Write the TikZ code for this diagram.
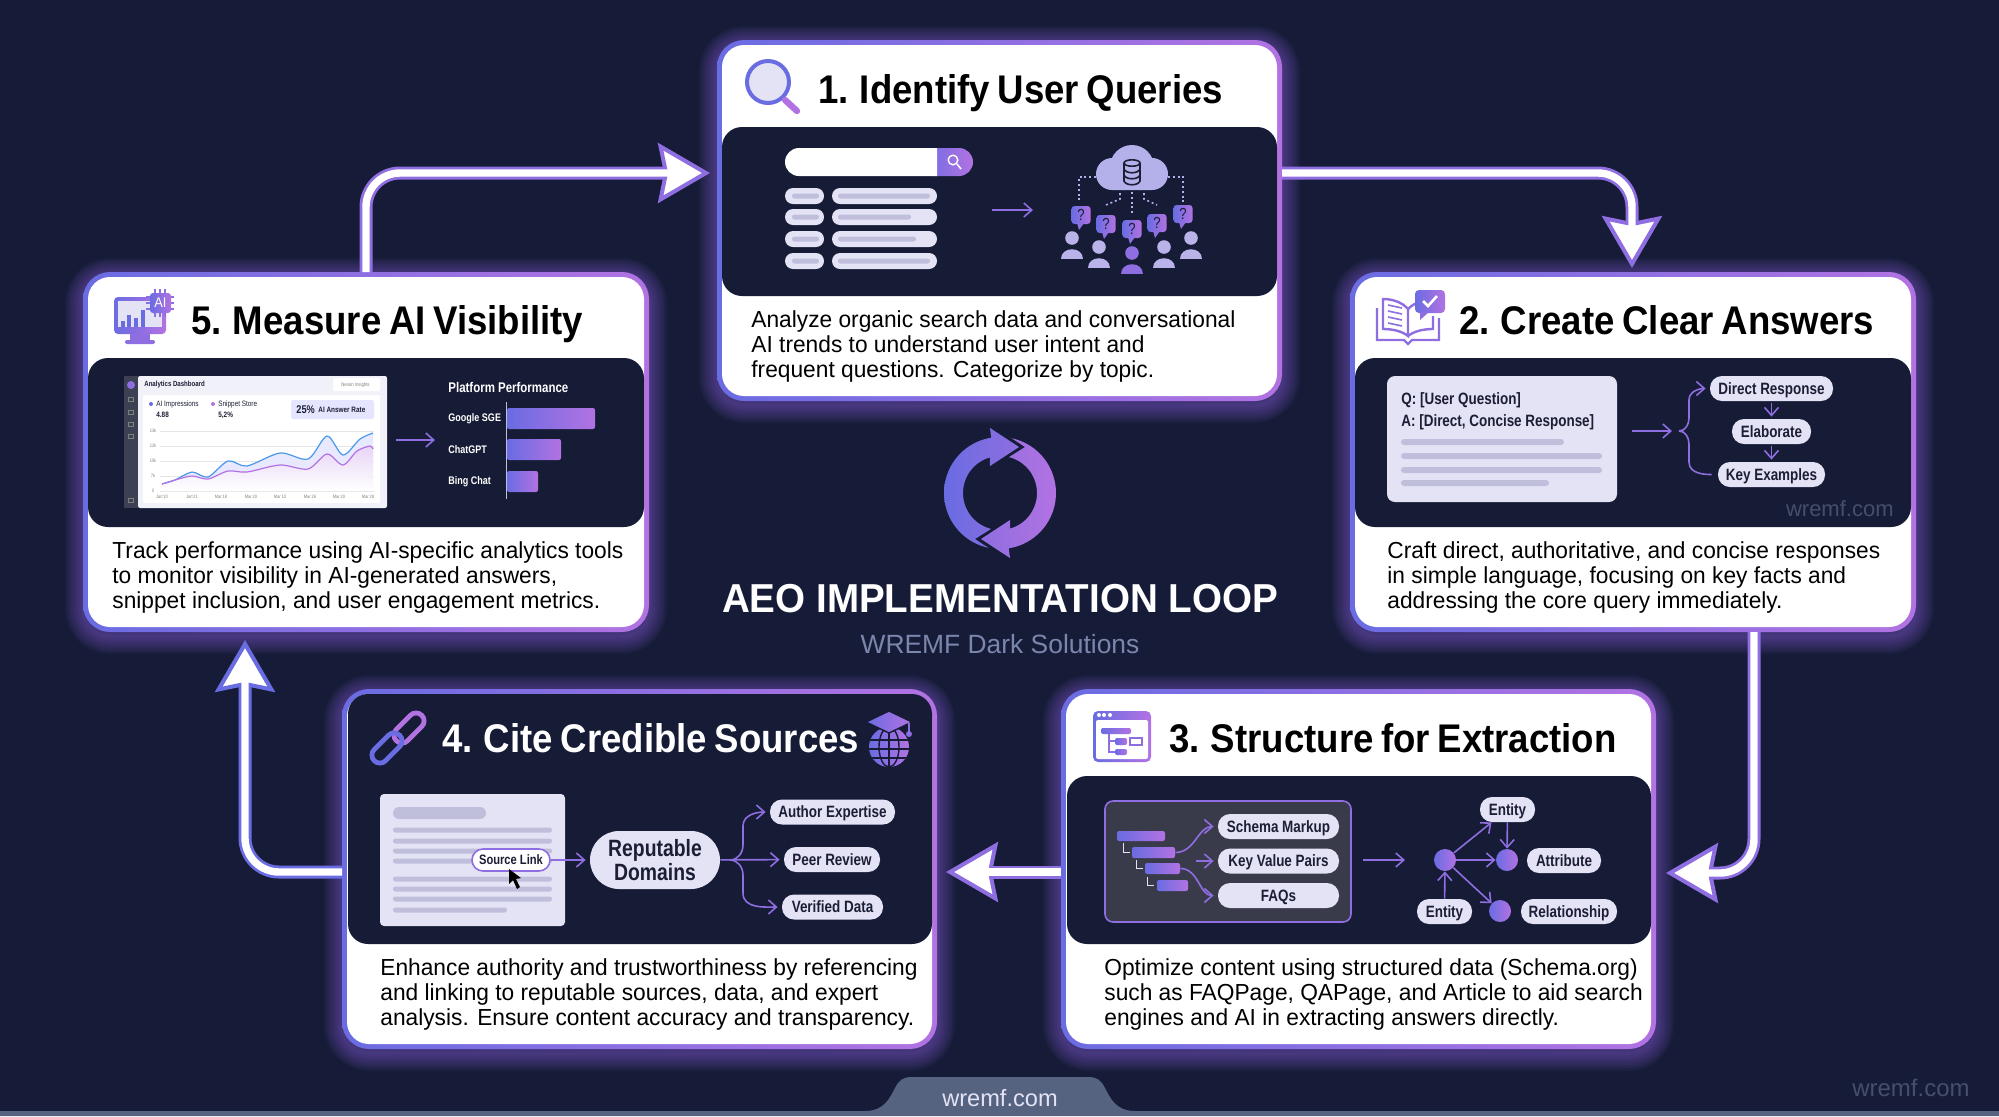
\documentclass[tikz,border=0pt]{standalone}
\usepackage{fontspec}
\setmainfont{Liberation Sans}
\newfontfamily\titlefam[FakeStretch=0.915,WordSpace=0.75]{Liberation Sans}
\newfontfamily\loopfam[FakeStretch=0.955]{Liberation Sans}
\newfontfamily\descfam[FakeStretch=0.98]{Liberation Sans}
\newfontfamily\narrowfam[FakeStretch=0.82]{Liberation Sans}
\usetikzlibrary{arrows.meta}

\definecolor{bgnavy}{HTML}{161C38}
\definecolor{panelnavy}{HTML}{161B36}
\definecolor{cardblue}{HTML}{6A6CE2}
\definecolor{cardpurple}{HTML}{B272E2}
\definecolor{midpurple}{HTML}{8E6EE0}
\definecolor{glowpurple}{HTML}{8A5FD8}
\definecolor{pillfill}{HTML}{E4E3F6}
\definecolor{barfill}{HTML}{BFBFDC}
\definecolor{inkdark}{HTML}{1B1E34}
\definecolor{subgray}{HTML}{7B86AC}
\definecolor{tabgray}{HTML}{566380}
\definecolor{markgray}{HTML}{464E6C}
\definecolor{cloudfill}{HTML}{B4B0EA}
\definecolor{personfill}{HTML}{B9B3EA}

\newcommand{\fs}[1]{\fontsize{#1}{#1}\selectfont}

\tikzset{
  cardbox/.style={inner sep=0pt, rounded corners=13.5pt, left color=cardblue, right color=cardpurple},
  gradfill/.style={left color=cardblue, right color=cardpurple},
  glowline/.style={draw=glowpurple, rounded corners=13.5pt, opacity=0.05},
  pillnode/.style={fill=pillfill, rounded corners=6pt, inner sep=0pt, minimum height=12.5pt, text=inkdark,
    text height=6pt, text depth=0.2pt, font=\narrowfam\bfseries\fs{8.2}},
  titletext/.style={anchor=base west, inner sep=0pt, font=\titlefam\bfseries\fs{20}},
  desctext/.style={anchor=north west, inner sep=0pt, align=left, text=black,
    font=\descfam\fontsize{11.6}{12.6}\selectfont},
  smalltext/.style={inner sep=0pt, text=white, font=\narrowfam\bfseries\fs{#1}},
  tinytext/.style={inner sep=0pt, text=inkdark, font=\narrowfam\fs{#1}},
  thinline/.style={draw=midpurple, line width=0.8pt},
  thinarrow/.style={thinline, -{Straight Barb[length=4pt,width=7pt]}},
  dotline/.style={draw=cloudfill, line width=0.8pt, dash pattern=on 1pt off 1.4pt},
  dotnode/.style={circle, inner sep=0pt, minimum size=11pt, gradfill},
  barnode/.style={inner sep=0pt, rounded corners=1pt, gradfill},
  bigarrow/.style={draw=#1, line width=6.5pt, rounded corners=17pt,
    -{Stealth[length=26pt,width=30pt,inset=3pt,fill=white,color=#1,line width=2pt]},
    postaction={draw=white, line width=3.7pt, -, shorten >=14pt}},
  personpic/.pic={
    \fill[#1] (0,0) circle (3.4pt);
    \fill[#1] (-11,21) .. controls (-11,8) and (11,8) .. (11,21) -- cycle;
  },
  bubblepic/.pic={
    \shade[gradfill, rounded corners=1.5pt] (-9.5,-9) rectangle (9.5,9);
    \fill[midpurple] (-4,8) -- (-2,15) -- (3,8) -- cycle;
    \node (qm) [tinytext=8, text=inkdark] at (0,0) {?};
  }
}

\begin{document}
\begin{tikzpicture}[x=0.5pt,y=-0.5pt]

\useasboundingbox (0,0) rectangle (1999,1116);
\fill[bgnavy] (0,0) rectangle (1999,1116);

\def\cardlist{card1/717/40/1282/401,card2/1350/272/1916/632,card3/1061/689/1656/1049,card4/342/689/937/1049,card5/83/272/649/632}

% glow behind the cards
\foreach \n/\xa/\ya/\xb/\yb in \cardlist
    \foreach \g in {3,6,...,36}
        \draw[glowline, line width=\g*0.5pt] (\xa,\ya+4) rectangle (\xb,\yb+4);

\foreach \n/\xa/\ya/\xb/\yb in \cardlist {
    \node (\n) [cardbox, minimum width={(\xb-\xa)*0.5pt}, minimum height={(\yb-\ya)*0.5pt}]
        at ({(\xa+\xb)/2},{(\ya+\yb)/2}) {};
    \fill[white, rounded corners=11pt] ({\xa+5},{\ya+5}) rectangle ({\xb-5},{\yb-5});
}

\foreach \xa/\ya/\xb/\yb in {722/127/1277/296,1355/358/1911/527,1067/776/1651/944,348/694/932/944,88/358/644/527}
    \fill[panelnavy, rounded corners=10pt] (\xa,\ya) rectangle (\xb,\yb);

% big loop arrows
\coordinate (c5out) at (366,272);
\coordinate (c1in) at (710,173);
\coordinate (c1out) at (1282,173);
\coordinate (c2in) at (1632,268);
\coordinate (c2out) at (1754,632);
\coordinate (c3in) at (1666,873);
\coordinate (c3out) at (1061,872);
\coordinate (c4in) at (946,872);
\coordinate (c4out) at (342,872);
\coordinate (c5in) at (245,640);

\draw[bigarrow=midpurple] (c5out) |- (c1in);
\draw[bigarrow=midpurple] (c1out) -| (c2in);
\draw[bigarrow=midpurple] (c2out) |- (c3in);
\draw[bigarrow=midpurple] (c3out) -- (c4in);
\draw[bigarrow=cardblue] (c4out) -| (c5in);

% centre
\shade[left color=cardblue, right color=midpurple]
    plot[domain=102:261,samples=40] ({1000+56*cos(\x)},{493+56*sin(\x)})
    -- (990,428) -- (1019,447) -- (990,466)
    -- plot[domain=254:104,samples=40] ({1000+37*cos(\x)},{493+37*sin(\x)})
    -- (975,539) -- cycle;
\shade[left color=midpurple, right color=cardpurple]
    plot[domain=282:441,samples=40] ({1000+56*cos(\x)},{493+56*sin(\x)})
    -- (1010,558) -- (981,539) -- (1010,520)
    -- plot[domain=434:284,samples=40] ({1000+37*cos(\x)},{493+37*sin(\x)})
    -- (1025,447) -- cycle;
\node (looptitle) [anchor=base, inner sep=0pt, text=white, font=\loopfam\bfseries\fs{20.2}] at (1000,612) {AEO IMPLEMENTATION LOOP};
\node (loopsub) [anchor=base, inner sep=0pt, text=subgray, font=\fs{13.2}] at (1000,653) {WREMF Dark Solutions};

% footer
\fill[tabgray] (0,1116) -- (0,1111) -- (865,1111) .. controls (885,1111) and (890,1097) .. (895,1088)
    .. controls (899,1080) and (903,1077) .. (912,1077) -- (1088,1077)
    .. controls (1097,1077) and (1101,1080) .. (1105,1088) .. controls (1110,1097) and (1115,1111) .. (1135,1111)
    -- (1999,1111) -- (1999,1116) -- cycle;
\node (tablabel) [anchor=base, inner sep=0pt, text=pillfill, font=\fs{11.8}] at (1000,1106) {wremf.com};
\node (cornermark) [anchor=base east, inner sep=0pt, text=markgray, font=\fs{12}] at (1970,1096) {wremf.com};

% ---- card 1
\fill[pillfill] (768,82) circle (10.5pt);
\draw[cardblue, line width=2pt] (768,82) circle (10.5pt);
\draw[cardpurple, line width=3.2pt, line cap=round] (785,100) -- (797,111);
\node (title1) [titletext] at (818,103) {1. Identify User Queries};

\shade[gradfill, rounded corners=7pt] (920,148) rectangle (973,176);
\fill[white] (937,148) [rounded corners=7pt] -- (785,148) -- (785,176) [sharp corners] -- (937,176) -- cycle;
\draw[white, line width=0.7pt] (953,160) circle (2.4pt);
\draw[white, line width=0.8pt] (957,164) -- (961,169);

\foreach \y/\l in {196/930,217/911,239/916,261/930} {
    \fill[pillfill, rounded corners=4pt] (785,\y-8) rectangle (824,\y+8);
    \fill[pillfill, rounded corners=4pt] (832,\y-8) rectangle (937,\y+8);
    \fill[barfill, rounded corners=1.2pt] (792,\y-2.5) rectangle (819,\y+2.5);
    \fill[barfill, rounded corners=1.2pt] (838,\y-2.5) rectangle (\l,\y+2.5);
}

\coordinate (a1s) at (992,210);
\coordinate (a1e) at (1033,210);
\draw[thinarrow] (a1s) -- (a1e);

\fill[cloudfill] (1132,167) circle (11pt) (1112,174) circle (8pt) (1152,174) circle (8pt)
    (1112,170) rectangle (1152,190);
\draw[inkdark, line width=0.8pt] (1132,163) circle [x radius=4pt, y radius=1.6pt];
\draw[inkdark, line width=0.8pt] (1124,163) -- (1124,181) .. controls (1126,186) and (1138,186) .. (1140,181) -- (1140,163);
\draw[inkdark, line width=0.8pt] (1124,169) .. controls (1126,174) and (1138,174) .. (1140,169);
\draw[inkdark, line width=0.8pt] (1124,175) .. controls (1126,180) and (1138,180) .. (1140,175);

\draw[dotline] (1096,177) -- (1079,177) -- (1079,203);
\draw[dotline] (1168,177) -- (1183,177) -- (1183,203);
\draw[dotline] (1120,193) -- (1120,199) -- (1106,205);
\draw[dotline] (1132,192) -- (1132,215);
\draw[dotline] (1144,193) -- (1144,199) -- (1157,205);

\foreach \n/\x/\y in {1/1081/215,2/1106/224,3/1132/229,4/1157/223,5/1183/214}
    \pic (bub\n) at (\x,\y) {bubblepic};
\foreach \n/\x/\y/\c in {1/1072/238/personfill,2/1099/247/personfill,3/1132/253/midpurple,4/1164/247/personfill,5/1191/238/personfill}
    \pic (per\n) at (\x,\y) {personpic=\c};

\node (desc1) [desctext] at (751,310) {Analyze organic search data and conversational\\AI trends to understand user intent and\\frequent questions. Categorize by topic.};

% ---- card 2
\draw[midpurple, line width=1.2pt] (1377,308) -- (1377,340) -- (1404,340) -- (1408,344) -- (1412,340) -- (1439,340) -- (1439,318);
\fill[white] (1383,299) .. controls (1392,299) and (1402,302) .. (1408,309) -- (1408,336) .. controls (1402,331) and (1392,329) .. (1383,329) -- cycle;
\draw[midpurple, line width=1.2pt] (1383,299) .. controls (1392,299) and (1402,302) .. (1408,309) -- (1408,336) .. controls (1402,331) and (1392,329) .. (1383,329) -- cycle;
\draw[midpurple, line width=1.2pt] (1408,309) .. controls (1412,305) and (1416,303) .. (1420,302);
\draw[midpurple, line width=1.2pt] (1408,336) .. controls (1414,331) and (1424,329) .. (1433,329) -- (1433,316);
\foreach \y in {305,311,317,323}
    \draw[midpurple, line width=0.8pt] (1388,\y) -- (1402,\y+3);
\shade[gradfill, rounded corners=2pt] (1415,290) rectangle (1445,313);
\fill[midpurple] (1420,312) -- (1420,320) -- (1429,312) -- cycle;
\draw[white, line width=1.3pt] (1423,301) -- (1428,306) -- (1437,296);
\node (title2) [titletext] at (1459,334) {2. Create Clear Answers};

\fill[pillfill, rounded corners=4pt] (1387,376) rectangle (1617,502);
\node (qline) [tinytext=8.2, anchor=base west, font=\narrowfam\bfseries\fs{8.2}] at (1401,404) {Q: [User Question]};
\node (aline) [tinytext=8.2, anchor=base west, font=\narrowfam\bfseries\fs{8.2}] at (1401,426) {A: [Direct, Concise Response]};
\foreach \y/\l in {442/1564,456/1602,470/1602,483/1549}
    \fill[barfill, rounded corners=1.5pt] (1401,\y-3) rectangle (\l,\y+3);

\coordinate (a2s) at (1632,431);
\coordinate (a2e) at (1672,431);
\draw[thinarrow] (a2s) -- (a2e);

\node (dresp) [pillnode, minimum width=61.5pt] at (1771.5,388.5) {Direct Response};
\node (elab) [pillnode, minimum width=39.5pt] at (1771.5,431.5) {Elaborate};
\node (keyex) [pillnode, minimum width=53.5pt] at (1771.5,474.5) {Key Examples};
\coordinate (fork2) at (1679,431);
\coordinate (fork2a) at (1689,418);
\coordinate (fork2b) at (1689,400);
\coordinate (fork2c) at (1689,444);
\coordinate (fork2d) at (1689,462);
\draw[thinarrow, shorten >=2pt] (fork2) to[out=0,in=-90] (fork2a) -- (fork2b) to[out=90,in=180] (dresp.west);
\draw[thinline, shorten >=3pt] (fork2) to[out=0,in=90] (fork2c) -- (fork2d) to[out=-90,in=180] (keyex.west);
\draw[thinarrow, shorten <=1pt, shorten >=1pt] (dresp) -- (elab);
\draw[thinarrow, shorten <=1pt, shorten >=1pt] (elab) -- (keyex);
\node (mark2) [anchor=base east, inner sep=0pt, text=markgray, font=\fs{11}] at (1894,516) {wremf.com};

\node (desc2) [desctext] at (1387,541) {Craft direct, authoritative, and concise responses\\in simple language, focusing on key facts and\\addressing the core query immediately.};

% ---- card 3
\shade[gradfill, rounded corners=2.5pt] (1093,711) rectangle (1151,762);
\fill[white, rounded corners=1pt] (1096,720) rectangle (1148,759);
\foreach \x in {1099,1104,1110}
    \fill[white] (\x,715) circle (1pt);
\shade[gradfill, rounded corners=1pt] (1101,728) rectangle (1131,734);
\shade[gradfill, rounded corners=1pt] (1115,738) rectangle (1127,745);
\shade[gradfill, rounded corners=1pt] (1115,749) rectangle (1127,755);
\draw[midpurple, line width=0.6pt] (1130,738) rectangle (1142,745);
\draw[midpurple, line width=0.6pt] (1109,734) -- (1109,752) -- (1115,752);
\draw[midpurple, line width=0.6pt] (1109,741) -- (1115,741);
\node (title3) [titletext] at (1169,752) {3. Structure for Extraction};

\fill[inkdark!70!gray, draw=midpurple, line width=0.8pt, rounded corners=4pt] (1105,801) rectangle (1351,922);
\node (tree1) [barnode, minimum width=24pt, minimum height=5pt] at (1141,836) {};
\node (tree2) [barnode, minimum width=21.5pt, minimum height=5.5pt] at (1153.5,852.5) {};
\node (tree3) [barnode, minimum width=17.5pt, minimum height=5.5pt] at (1162.5,868.5) {};
\node (tree4) [barnode, minimum width=15.5pt, minimum height=5.5pt] at (1172.5,885.5) {};
\foreach \xa/\ya/\yb/\xb in {1123/843/852/1130,1136/860/868/1143,1147/877/885/1154}
    \draw[pillfill, line width=0.5pt] (\xa,\ya) -- (\xa,\yb) -- (\xb,\yb);
\node (schema) [pillnode, minimum width=60.5pt] at (1278.5,826.5) {Schema Markup};
\node (keyval) [pillnode, minimum width=60.5pt] at (1278.5,861) {Key Value Pairs};
\node (faqs) [pillnode, minimum width=60.5pt] at (1278.5,895.5) {FAQs};
\coordinate (treemid) at (1196,861);
\draw[thinarrow, shorten >=2pt] (tree2.east) to[out=0,in=180] (schema.west);
\draw[thinarrow, shorten >=2pt] (treemid) -- (keyval.west);
\draw[thinarrow, shorten >=2pt] (tree3.east) to[out=0,in=180] (faqs.west);

\coordinate (a3s) at (1363,860);
\coordinate (a3e) at (1405,860);
\draw[thinarrow] (a3s) -- (a3e);

\node (dota) [dotnode] at (1445,860) {};
\node (dotb) [dotnode] at (1507,860) {};
\node (dotc) [dotnode] at (1500,911) {};
\node (ent1) [pillnode, minimum width=27.5pt] at (1507.5,809.5) {Entity};
\node (attr) [pillnode, minimum width=37pt] at (1564,860.5) {Attribute};
\node (ent2) [pillnode, minimum width=27.5pt] at (1444.5,911.5) {Entity};
\node (relat) [pillnode, minimum width=48pt] at (1569,911.5) {Relationship};
\draw[thinarrow] (dota) -- (ent1);
\draw[thinarrow] (ent1) -- (dotb);
\draw[thinarrow] (dota) -- (dotb);
\draw[thinarrow] (ent2) -- (dota);
\draw[thinarrow] (dota) -- (dotc);

\node (desc3) [desctext] at (1104,958) {Optimize content using structured data (Schema.org)\\such as FAQPage, QAPage, and Article to aid search\\engines and AI in extracting answers directly.};

% ---- card 4
\begin{scope}[rotate around={45:(409,728)}]
    \draw[cardpurple, line width=2.4pt, rounded corners=4pt] (391,720) rectangle (427,736);
\end{scope}
\begin{scope}[rotate around={45:(387,748)}]
    \draw[cardblue, line width=2.4pt, rounded corners=4pt] (369,740) rectangle (405,756);
\end{scope}
\node (title4) [titletext, text=white] at (442,752) {4. Cite Credible Sources};

\shade[gradfill] (889,747) circle (10pt);
\begin{scope}
    \clip (889,747) circle (10pt);
    \foreach \y in {740,749,758}
        \draw[panelnavy, line width=0.7pt] (865,\y) -- (913,\y);
    \draw[panelnavy, line width=0.7pt] (889,725) -- (889,770);
    \draw[panelnavy, line width=0.7pt] (889,747) circle [x radius=5pt, y radius=10pt];
\end{scope}
\shade[gradfill, draw=panelnavy, line width=0.7pt] (889,711) -- (912,722) -- (889,733) -- (866,722) -- cycle;
\draw[midpurple, line width=0.8pt] (909,723) -- (909,733);
\fill[midpurple] (909,734) circle (1.5pt);

\fill[pillfill, rounded corners=2pt] (380,794) rectangle (565,926);
\fill[barfill, rounded corners=3pt] (393,807) rectangle (486,819);
\foreach \y/\l in {830/552,841/552,851/552,861/552,879/552,889/552,899/552,910/507}
    \fill[barfill, rounded corners=1.2pt] (393,\y-2.5) rectangle (\l,\y+2.5);
\node (srclink) [pillnode, fill=white, draw=midpurple, line width=0.8pt, rounded corners=5.5pt, minimum width=39pt,
    minimum height=11pt, text height=4.9pt, font=\narrowfam\bfseries\fs{6.8}] at (511,860) {Source Link};
\fill[black] (509,869) -- (509,884) -- (513,880) -- (517,889) -- (520,887) -- (516,879) -- (521,878) -- cycle;
\node (repdom) [pillnode, rounded corners=14.5pt, minimum width=65pt, minimum height=29pt, align=center,
    text height=, text depth=, font=\narrowfam\bfseries\fontsize{11.8}{11.7}\selectfont] at (655,860) {Reputable\\Domains};
\draw[thinarrow, shorten >=2pt] (srclink) -- (repdom);

\node (author) [pillnode, minimum width=62.5pt] at (832.5,812) {Author Expertise};
\node (peer) [pillnode, minimum width=48pt] at (832,859.5) {Peer Review};
\node (verif) [pillnode, minimum width=50.5pt] at (832.5,907) {Verified Data};
\coordinate (fork4) at (730,860);
\coordinate (fork4a) at (743,845);
\coordinate (fork4b) at (743,826);
\coordinate (fork4c) at (743,875);
\coordinate (fork4d) at (743,893);
\draw[thinarrow, shorten >=2pt] (repdom) -- (peer);
\draw[thinarrow, shorten >=2pt] (fork4) to[out=0,in=-90] (fork4a) -- (fork4b) to[out=90,in=180] (author.west);
\draw[thinarrow, shorten >=2pt] (fork4) to[out=0,in=90] (fork4c) -- (fork4d) to[out=-90,in=180] (verif.west);

\node (desc4) [desctext] at (380,958) {Enhance authority and trustworthiness by referencing\\and linking to reputable sources, data, and expert\\analysis. Ensure content accuracy and transparency.};

% ---- card 5
\shade[gradfill, rounded corners=2pt] (114,297) rectangle (166,334);
\fill[pillfill] (118,301) rectangle (162,327);
\fill[midpurple] (130,334) rectangle (150,340);
\fill[midpurple, rounded corners=1pt] (125,340) rectangle (155,344);
\foreach \x/\y in {121/321,127/315,134/318,141/310}
    \fill[cardblue] (\x,\y) rectangle (\x+4,327);
\foreach \y in {297,303,309}
    \draw[midpurple, line width=0.6pt] (146,\y) -- (174,\y);
\foreach \x in {155,160,165}
    \draw[midpurple, line width=0.6pt] (\x,289) -- (\x,317);
\shade[gradfill, rounded corners=1.5pt] (150,293) rectangle (171,313);
\node (chipai) [smalltext=6.5, font=\titlefam\fs{7}] at (160.5,303) {AI};
\node (title5) [titletext] at (191,334) {5. Measure AI Visibility};

% dashboard
\fill[inkdark!85!white] (124,376) rectangle (138,508);
\fill[pillfill!50!white, rounded corners=1pt] (138,376) rectangle (387,508);
\fill[white, rounded corners=1pt] (143,395) rectangle (380,503);
\fill[midpurple] (131,385) circle (2pt);
\foreach \y in {399,412,424,436,500}
    \draw[gray, line width=0.3pt] (128.5,\y-2) rectangle (133.5,\y+2);
\node (dashname) [tinytext=3.7, anchor=west, font=\narrowfam\bfseries\fs{3.7}] at (144,385) {Analytics Dashboard};
\fill[white, rounded corners=1pt] (333,378) rectangle (380,391);
\node (dashchip) [tinytext=2.6, anchor=west, text=gray] at (341,385) {Neson Insights};
\node (impname) [tinytext=3.9, anchor=west] at (156,404) {AI Impressions};
\fill[cardblue] (151,404) circle (1pt);
\node (impval) [tinytext=3.9, anchor=west, font=\narrowfam\bfseries\fs{3.9}] at (156,415) {4.88};
\node (snipname) [tinytext=3.9, anchor=west] at (218,404) {Snippet Store};
\fill[cardpurple] (213,404) circle (1pt);
\node (snipval) [tinytext=3.9, anchor=west, font=\narrowfam\bfseries\fs{3.9}] at (218,415) {5,2\%};
\fill[blue!10!white, rounded corners=1pt] (291,400) rectangle (374,419);
\node (ratepct) [tinytext=5.6, anchor=west, font=\narrowfam\bfseries\fs{5.6}] at (296,410) {25\%};
\node (ratename) [tinytext=3.9, anchor=west, font=\narrowfam\bfseries\fs{3.9}] at (318,410) {AI Answer Rate};
\foreach \y/\t in {431/13k,446/12k,461/10k,476/7k,491/0} {
    \draw[gray!20, line width=0.3pt] (160,\y) -- (374,\y);
    \node (yl\y) [tinytext=2.4, text=gray] at (153,\y) {\t};
}
\foreach \x/\t in {162/Jan'10,192/Jan'21,221/Mar 18,251/Mar 20,280/Mar 10,310/Mar 26,339/Mar 20,368/Mar 28}
    \node (xl\x) [tinytext=2.4, text=gray] at (\x,497) {\t};
\fill[blue!9!white] plot[smooth] coordinates {(162,484) (175,480) (192,472) (208,477) (228,461) (247,466) (280,453) (308,459) (327,436) (343,455) (360,439) (373,433)} -- (373,470) -- (162,491) -- cycle;
\shade[top color=cardpurple!30!white, bottom color=white] plot[smooth] coordinates {(162,484) (175,480) (192,476) (208,479) (228,471) (247,472) (280,465) (308,469) (327,454) (343,465) (357,451) (370,446) (373,449)} -- (373,491) -- (162,491) -- cycle;
\draw[cardblue!70!cyan, line width=0.6pt] plot[smooth] coordinates {(162,484) (175,480) (192,472) (208,477) (228,461) (247,466) (280,453) (308,459) (327,436) (343,455) (360,439) (373,433)};
\draw[cardpurple, line width=0.6pt] plot[smooth] coordinates {(162,484) (175,480) (192,476) (208,479) (228,471) (247,472) (280,465) (308,469) (327,454) (343,465) (357,451) (370,446) (373,449)};

\coordinate (a5s) at (396,440);
\coordinate (a5e) at (435,440);
\draw[thinarrow] (a5s) -- (a5e);

\node (platname) [smalltext=7, anchor=west] at (448,387) {Platform Performance};
\node (lblsge) [smalltext=5.5, anchor=west] at (448,419) {Google SGE};
\node (lblgpt) [smalltext=5.5, anchor=west] at (448,450) {ChatGPT};
\node (lblbing) [smalltext=5.5, anchor=west] at (448,482) {Bing Chat};
\coordinate (axtop) at (506,402);
\coordinate (axbot) at (506,499);
\draw[barfill, line width=0.5pt] (axtop) -- (axbot);
\node (barsge) [barnode, minimum width=44pt, minimum height=10.5pt] at (551,418.5) {};
\node (bargpt) [barnode, minimum width=27pt, minimum height=10.5pt] at (534,449.5) {};
\node (barbing) [barnode, minimum width=15.5pt, minimum height=10.5pt] at (522.5,481.5) {};

\node (desc5) [desctext] at (112,541) {Track performance using AI-specific analytics tools\\to monitor visibility in AI-generated answers,\\snippet inclusion, and user engagement metrics.};

\end{tikzpicture}
\end{document}
